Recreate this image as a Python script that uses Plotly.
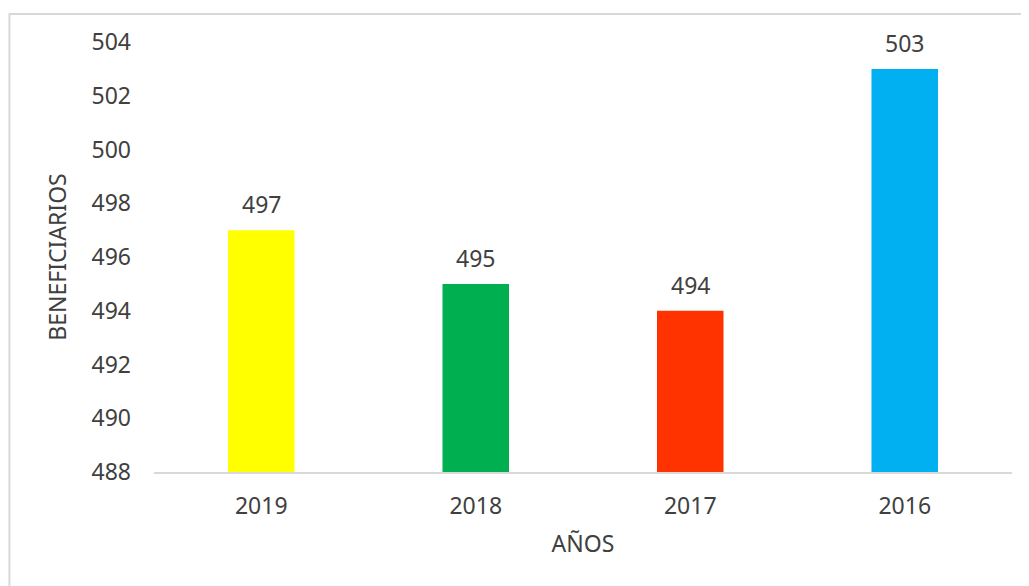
import plotly.graph_objects as go

years = ["2019", "2018", "2017", "2016"]
beneficiarios = [497, 495, 494, 503]
bar_colors = ["#FFFF00", "#00B050", "#FF3300", "#00B0F0"]

FONT = "Noto Sans"
GRAY = "#404040"
SIZE = 23

fig = go.Figure(go.Bar(
    x=years,
    y=beneficiarios,
    marker=dict(color=bar_colors, line=dict(width=0)),
    width=0.31,
    cliponaxis=False,
))

# value labels above the bars (category index, since the years look numeric)
for i, val in enumerate(beneficiarios):
    fig.add_annotation(
        x=i, y=val, text=str(val), showarrow=False,
        yanchor="bottom", yshift=8,
        font=dict(family=FONT, size=SIZE, color=GRAY),
    )

fig.update_layout(
    width=1029,
    height=586,
    margin=dict(l=146, r=25, t=34, b=122),
    paper_bgcolor="white",
    plot_bgcolor="white",
    font=dict(family=FONT, size=SIZE, color=GRAY),
    showlegend=False,
    xaxis=dict(
        type="category",
        range=[-0.5, 3.5],
        showline=True,
        linecolor="#D9D9D9",
        linewidth=2,
        showgrid=False,
        ticks="",
        ticklabelstandoff=12,
        tickfont=dict(family=FONT, size=SIZE, color=GRAY),
        title=dict(text="AÑOS", standoff=16,
                   font=dict(family=FONT, size=SIZE, color=GRAY)),
    ),
    yaxis=dict(
        range=[488, 504],
        dtick=2,
        showline=False,
        showgrid=False,
        zeroline=False,
        ticks="",
        ticklabelstandoff=22,
        tickfont=dict(family=FONT, size=SIZE, color=GRAY),
        title=dict(text="BENEFICIARIOS", standoff=18,
                   font=dict(family=FONT, size=SIZE, color=GRAY)),
    ),
    bargap=0.69,
)

# chart frame
fig.add_shape(
    type="rect", xref="paper", yref="paper",
    x0=-0.1685, x1=1.03, y0=-0.3, y1=1.0651,
    line=dict(color="#D9D9D9", width=2),
    layer="below",
)

fig.write_html("out.html")
